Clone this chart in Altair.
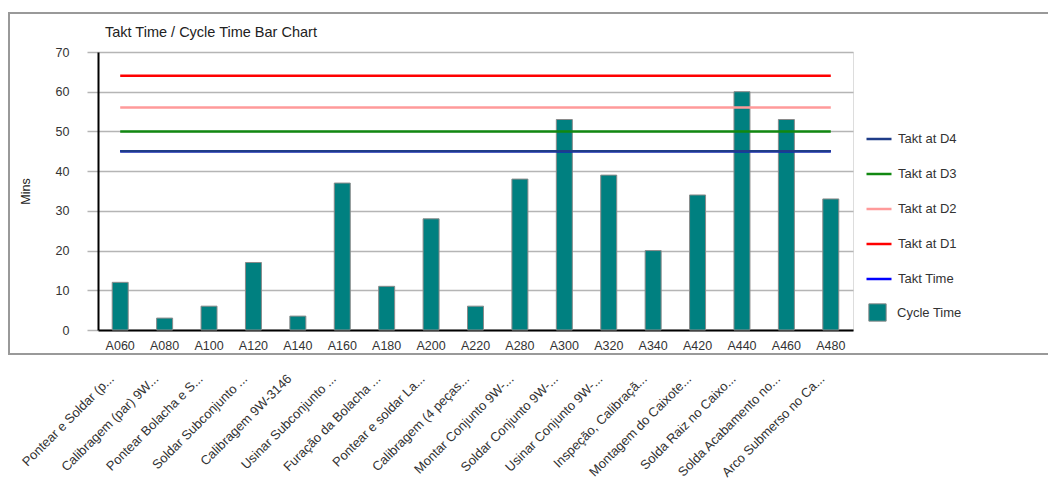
import altair as alt
import pandas as pd

codes = ["A060", "A080", "A100", "A120", "A140", "A160", "A180", "A200", "A220",
         "A280", "A300", "A320", "A340", "A420", "A440", "A460", "A480"]
names = ["Pontear e Soldar (p...", "Calibragem (par) 9W...", "Pontear Bolacha e S...",
         "Soldar Subconjunto ...", "Calibragem 9W-3146", "Usinar Subconjunto ...",
         "Furação da Bolacha ...", "Pontear e soldar La...", "Calibragem (4 peças...",
         "Montar Conjunto 9W-...", "Soldar Conjunto 9W-...", "Usinar Conjunto 9W-...",
         "Inspeção, Calibraçã...", "Montagem do Caixote...", "Solda Raiz no Caixo...",
         "Solda Acabamento no...", "Arco Submerso no Ca..."]
cycle_time = [12, 3, 6, 17, 3.5, 37, 11, 28, 6, 38, 53, 39, 20, 34, 60, 53, 33]

takt_series = ["Takt at D4", "Takt at D3", "Takt at D2", "Takt at D1", "Takt Time"]
takt_values = [45, 50, 56, 64, 45]
takt_colors = ["#1f3c88", "#118811", "#ff9a9a", "#ff0000", "#0000ff"]

bars_df = pd.DataFrame({"code": codes, "name": names, "cycle": cycle_time,
                        "kind": ["Cycle Time"] * len(codes)})
lines_df = pd.DataFrame([{"code": c, "series": s, "value": v}
                         for s, v in zip(takt_series, takt_values) for c in codes])

FONT = "Liberation Sans"
W, H = 755, 278

xscale = alt.Scale(domain=codes, paddingInner=0.64, paddingOuter=0.32)
yscale = alt.Scale(domain=[0, 70])
yaxis = alt.Axis(title="Mins", values=[0, 10, 20, 30, 40, 50, 60, 70],
                 labelOverlap=False,
                 grid=True, gridColor="#b5b5b5", gridWidth=1.5,
                 tickColor="#b5b5b5", tickSize=11, tickWidth=1.5,
                 domainColor="#000000", domainWidth=2,
                 labelFont=FONT, labelFontSize=12.5, labelColor="#333333",
                 labelPadding=18, titleFont=FONT, titleFontSize=12.5,
                 titleFontWeight="normal", titleColor="#222222",
                 titlePadding=23)

frame = alt.Chart(alt.Data(values=[{"a": 1}])).mark_rect(
    fill=None, stroke="#999999", strokeWidth=2
).encode(x=alt.value(-89), x2=alt.value(990), y=alt.value(-39), y2=alt.value(302))

bars = alt.Chart(bars_df).mark_bar(stroke="#8a8a8a", strokeWidth=1).encode(
    x=alt.X("code:N", scale=xscale, sort=codes,
            axis=alt.Axis(title=None, labelAngle=0, ticks=False, domainColor="#000000",
                          domainWidth=2, labelFont=FONT, labelFontSize=12.5,
                          labelColor="#333333", labelPadding=9, grid=False)),
    y=alt.Y("cycle:Q", scale=yscale, axis=yaxis),
    fill=alt.Fill("kind:N", scale=alt.Scale(domain=["Cycle Time"], range=["#008080"]),
                  legend=alt.Legend(title=None, orient="none", legendX=770, legendY=251,
                                    symbolType="square", symbolSize=300,
                                    symbolStrokeColor="#8a8a8a", symbolStrokeWidth=1,
                                    labelFont=FONT, labelFontSize=13,
                                    labelColor="#333333", labelOffset=10, padding=0)),
)

line_enc = dict(
    x=alt.X("code:N", scale=xscale, sort=codes),
    y=alt.Y("value:Q", scale=yscale, axis=yaxis, title="Mins"),
    color=alt.Color("series:N", scale=alt.Scale(domain=takt_series, range=takt_colors),
                    legend=alt.Legend(title=None, orient="none", legendX=767, legendY=73,
                                      symbolType="stroke", symbolSize=625,
                                      symbolStrokeWidth=2.5, rowPadding=14,
                                      labelFont=FONT, labelFontSize=13,
                                      labelColor="#333333", labelOffset=5, padding=0)),
)

line_tt = alt.Chart(lines_df).transform_filter(alt.datum.series == "Takt Time").mark_line(
    strokeWidth=2.5).encode(**line_enc)
line_d = alt.Chart(lines_df).transform_filter(alt.datum.series != "Takt Time").mark_line(
    strokeWidth=2.5).encode(**line_enc)

name_axis = alt.Chart(bars_df).mark_point(opacity=0).encode(
    x=alt.X("name:N", sort=names, scale=alt.Scale(padding=0.5),
            axis=alt.Axis(title=None, orient="bottom", offset=40, labelAngle=-45,
                          ticks=False, domain=False, labelFont=FONT, labelFontSize=13,
                          labelColor="#333333", labelPadding=2, labelLimit=300,
                          position=-13)),
    y=alt.Y("cycle:Q", scale=yscale, axis=yaxis, title="Mins"),
)

main = alt.layer(bars, line_tt, line_d).resolve_scale(x="shared")

chart = alt.layer(frame, main, name_axis).resolve_scale(x="independent").properties(
    width=W, height=H,
    title=alt.Title("Takt Time / Cycle Time Bar Chart", anchor="start", frame="group",
                    font=FONT, fontSize=14.5, fontWeight="normal", color="#222222",
                    dx=7, offset=-28),
    autosize=alt.AutoSizeParams(type="none"),
    padding={"left": 98, "top": 52, "right": 195, "bottom": 156},
).configure_view(stroke=None).configure(background="white")

chart.save("out.html", embed_options={"renderer": "svg", "actions": False})
